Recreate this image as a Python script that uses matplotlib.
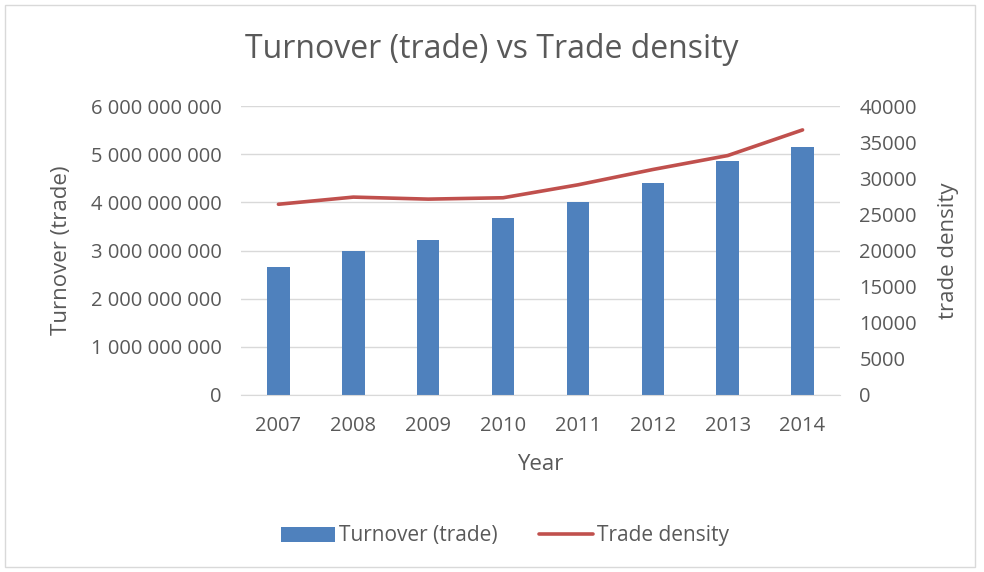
import matplotlib
matplotlib.use("Agg")
import matplotlib.pyplot as plt
from matplotlib.ticker import FuncFormatter, MultipleLocator
from matplotlib.patches import Rectangle
import numpy as np

years = ["2007", "2008", "2009", "2010", "2011", "2012", "2013", "2014"]
turnover = [2.66e9, 3.00e9, 3.21e9, 3.67e9, 4.01e9, 4.41e9, 4.86e9, 5.15e9]
density = [26400, 27390, 27110, 27300, 29090, 31210, 33140, 36690]

plt.rcParams['font.family'] = ['Open Sans', 'DejaVu Sans']
txt = '#595959'
grid = '#D9D9D9'
blue = '#4F81BD'
red = '#C0504D'

fig = plt.figure(figsize=(9.84, 5.72), dpi=100)
fig.patches.append(Rectangle((5/984, 5/572), 970/984, 562/572, transform=fig.transFigure,
                             fill=False, edgecolor=grid, linewidth=1))

L, R, T, B = 241, 840, 106, 395
W, H = R - L, B - T
ax = fig.add_axes([L/984, 1 - B/572, W/984, H/572])
x = np.arange(len(years))
ax.bar(x, turnover, width=0.3, color=blue, zorder=2, label='Turnover (trade)')
ax.set_xlim(-0.5, len(years) - 0.5)
ax.set_ylim(0, 6e9)
ax.yaxis.set_major_locator(MultipleLocator(1e9))
ax.yaxis.set_major_formatter(FuncFormatter(lambda v, p: f"{int(v):,}".replace(",", " ")))
ax.set_xticks(x)
ax.set_xticklabels(years)
ax.grid(axis='y', color=grid, linewidth=1, zorder=0)
for s in ['top', 'right', 'left']:
    ax.spines[s].set_visible(False)
ax.spines['bottom'].set_color(grid)
ax.tick_params(length=0, colors=txt, labelsize=14.5)
ax.tick_params(axis='y', pad=14)
ax.tick_params(axis='x', pad=15)
ax.set_ylabel('Turnover (trade)', color=txt, fontsize=16, va='center')
ax.yaxis.set_label_coords((62 - L) / W, 0.5)
ax.set_xlabel('Year', color=txt, fontsize=16, va='center')
ax.xaxis.set_label_coords(0.5, -(465 - B) / H)

ax2 = ax.twinx()
ax2.plot(x, density, color=red, linewidth=2.6, solid_capstyle='round', label='Trade density')
ax2.set_ylim(0, 40000)
ax2.yaxis.set_major_locator(MultipleLocator(5000))
for s in ['top', 'right', 'left', 'bottom']:
    ax2.spines[s].set_visible(False)
ax2.tick_params(length=0, colors=txt, labelsize=14.5, pad=14)
ax2.set_ylabel('trade density', color=txt, fontsize=16, va='center')
ax2.yaxis.set_label_coords((948 - L) / W, 0.5)

fig.text(0.5, 1 - 50/572, 'Turnover (trade) vs Trade density', ha='center', va='center',
         color=txt, fontsize=23)

h1, l1 = ax.get_legend_handles_labels()
h2, l2 = ax2.get_legend_handles_labels()
fig.legend(h1 + h2, l1 + l2, loc='center', bbox_to_anchor=(505/984, 1 - 536/572),
           ncol=2, frameon=False, fontsize=15, labelcolor=txt, handlelength=2.6,
           handleheight=0.7, handletextpad=0.2, columnspacing=2.0)

fig.savefig('out.png', dpi=100)
